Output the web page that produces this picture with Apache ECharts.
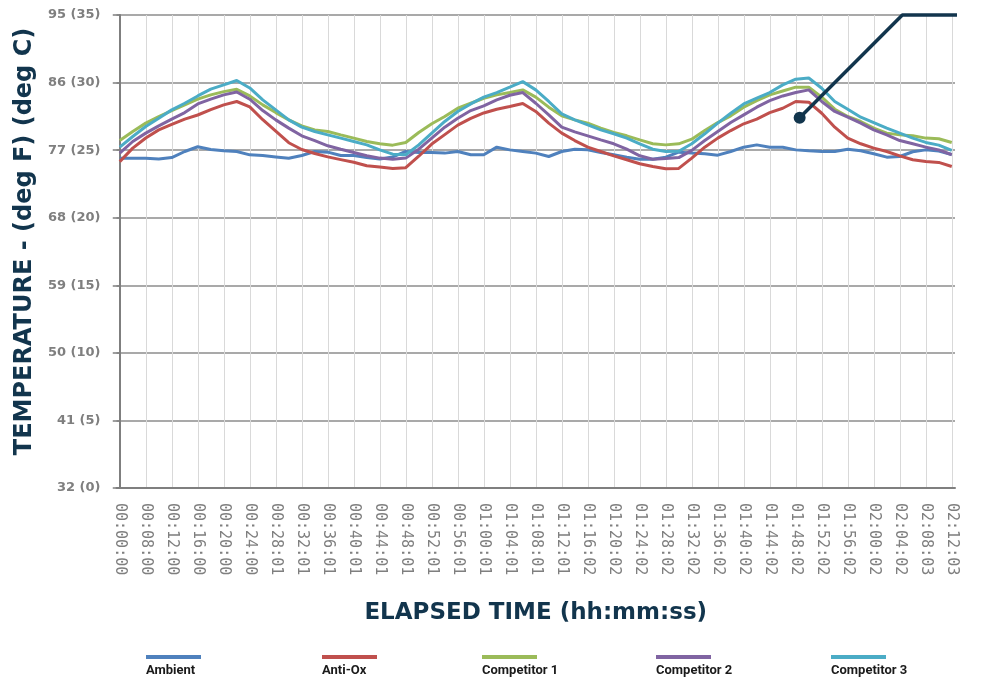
<!DOCTYPE html>
<html>
<head>
<meta charset="utf-8">
<script src="https://cdn.jsdelivr.net/npm/echarts@6/dist/echarts.min.js"></script>
<style>
  html, body { margin: 0; padding: 0; background: #fff; }
  #chart { width: 985px; height: 678px; }
</style>
</head>
<body>
<div id="chart"></div>
<script>
// x labels every 4 minutes (one category per minute)
const tickLabels = ['00:00:00', '00:08:00', '00:12:00', '00:16:00', '00:20:00', '00:24:00', '00:28:01', '00:32:01',
  '00:36:01', '00:40:01', '00:44:01', '00:48:01', '00:52:01', '00:56:01', '01:00:01', '01:04:01', '01:08:01',
  '01:12:01', '01:16:02', '01:20:02', '01:24:02', '01:28:02', '01:32:02', '01:36:02', '01:40:02', '01:44:02',
  '01:48:02', '01:52:02', '01:56:02', '02:00:02', '02:04:02', '02:08:03', '02:12:03'];
const yTickLabels = ['32 (0)', '41 (5)', '50 (10)', '59 (15)', '68 (20)', '77 (25)', '86 (30)', '95 (35)'];

// readings in deg C, one every 2 minutes
const ambient = [24.4, 24.4, 24.4, 24.35, 24.45, 24.9, 25.25, 25.05, 24.95, 24.9, 24.65, 24.6, 24.5, 24.4, 24.6, 24.9,
  24.85, 24.6, 24.6, 24.45, 24.35, 24.5, 24.9, 24.83, 24.83, 24.78, 24.9, 24.66, 24.66, 25.22, 25.02, 24.9, 24.78,
  24.53, 24.9, 25.07, 25.02, 24.83, 24.66, 24.48, 24.33, 24.33, 24.48, 24.85, 24.78, 24.73, 24.63, 24.9, 25.22,
  25.39, 25.22, 25.22, 25.02, 24.95, 24.9, 24.9, 25.07, 24.95, 24.73, 24.48, 24.53, 24.88, 25.02, 24.93, 24.68];
const antiOx = [24.15, 25.15, 25.9, 26.5, 26.9, 27.3, 27.6, 28.0, 28.35, 28.6, 28.2, 27.25, 26.4, 25.55, 25.05, 24.75,
  24.5, 24.3, 24.1, 23.85, 23.75, 23.65, 23.7, 24.55, 25.45, 26.15, 26.85, 27.35, 27.75, 28.03, 28.23, 28.45, 27.86,
  27.0, 26.26, 25.71, 25.22, 24.9, 24.58, 24.29, 23.99, 23.79, 23.62, 23.65, 24.41, 25.22, 25.89, 26.45, 26.95,
  27.29, 27.78, 28.1, 28.6, 28.55, 27.73, 26.7, 25.89, 25.47, 25.15, 24.9, 24.58, 24.29, 24.16, 24.09, 23.79];
const competitor1 = [25.71, 26.38, 27.0, 27.49, 27.93, 28.35, 28.77, 29.09, 29.33, 29.5, 29.01, 28.35, 27.78, 27.24,
  26.8, 26.5, 26.38, 26.13, 25.89, 25.64, 25.47, 25.37, 25.57, 26.31, 26.95, 27.49, 28.1, 28.47, 28.84, 29.09, 29.26,
  29.46, 28.92, 28.18, 27.54, 27.24, 27.0, 26.63, 26.31, 26.06, 25.76, 25.47, 25.39, 25.47, 25.81, 26.45, 27.04,
  27.54, 28.18, 28.67, 29.09, 29.38, 29.66, 29.66, 28.92, 28.03, 27.49, 27.12, 26.63, 26.26, 26.13, 26.06, 25.89,
  25.84, 25.57];
const competitor2 = [24.78, 25.64, 26.26, 26.8, 27.29, 27.78, 28.42, 28.77, 29.09, 29.3, 28.77, 27.93, 27.24, 26.63,
  26.06, 25.71, 25.32, 25.07, 24.83, 24.58, 24.41, 24.33, 24.41, 25.07, 25.89, 26.7, 27.36, 27.93, 28.28, 28.72, 29.06,
  29.26, 28.47, 27.61, 26.7, 26.35, 26.06, 25.76, 25.47, 25.07, 24.58, 24.33, 24.38, 24.45, 24.98, 25.71, 26.38,
  27.04, 27.61, 28.18, 28.67, 29.01, 29.26, 29.46, 28.6, 27.86, 27.44, 27.0, 26.5, 26.13, 25.71, 25.47, 25.22,
  25.02, 24.66];
const competitor3 = [25.22, 26.01, 26.75, 27.36, 27.98, 28.47, 29.01, 29.51, 29.83, 30.15, 29.6, 28.72, 27.98, 27.24,
  26.7, 26.38, 26.13, 25.89, 25.64, 25.39, 25.02, 24.7, 24.66, 25.39, 26.26, 27.12, 27.86, 28.42, 28.92, 29.26, 29.66,
  30.07, 29.46, 28.6, 27.68, 27.24, 26.87, 26.5, 26.21, 25.89, 25.47, 25.07, 24.9, 24.92, 25.47, 26.21, 27.0, 27.73,
  28.42, 28.84, 29.26, 29.83, 30.25, 30.34, 29.58, 28.6, 28.03, 27.44, 27.04, 26.63, 26.26, 25.89, 25.57, 25.37,
  24.98];

const seriesNames = ['Ambient', 'Anti-Ox', 'Competitor 1', 'Competitor 2', 'Competitor 3'];
const seriesValues = [ambient, antiOx, competitor1, competitor2, competitor3];
const colors = ['#4f81bd', '#c0504d', '#9bbb59', '#8064a2', '#4bacc6'];
const legendLeft = [146, 322, 482, 656, 831];

// callout pointer: [minute, deg C]
const calloutPath = [[104.6, 27.4], [120.4, 35], [133.3, 35]];

const categories = [];
for (let m = 0; m <= 128; m++) {
  categories.push(m % 4 === 0 ? tickLabels[m / 4] : '');
}

const navy = '#12354d';
const gray = '#7f7f7f';
const titleFont = { color: navy, fontSize: 23, fontWeight: 'bold', fontFamily: 'DejaVu Sans' };

const series = seriesValues.map((vals, i) => ({
  name: seriesNames[i],
  type: 'line',
  data: vals.map((v, j) => [j * 2, v]),
  showSymbol: false,
  symbol: 'none',
  color: colors[i],
  lineStyle: { width: 3, color: colors[i] },
  z: 3
}));

series.push({
  name: 'callout',
  type: 'line',
  xAxisIndex: 1,
  data: calloutPath,
  clip: false,
  silent: true,
  showSymbol: true,
  symbol: (val, params) => params.dataIndex === 0 ? 'circle' : 'none',
  symbolSize: 12,
  itemStyle: { color: navy },
  lineStyle: { width: 3.5, color: navy },
  z: 5
});

// legend text sits under its swatch
const legends = seriesNames.map((name, i) => ({
  data: [name],
  left: legendLeft[i],
  top: 629,
  padding: 0,
  icon: 'rect',
  itemWidth: 55,
  itemHeight: 4,
  selectedMode: false,
  formatter: n => '\n' + n,
  textStyle: {
    color: '#1a1a1a',
    fontFamily: 'Roboto',
    fontWeight: 'bold',
    fontSize: 13,
    lineHeight: 28,
    padding: [0, 0, 0, -60]
  }
}));

const chart = echarts.init(document.getElementById('chart'));
chart.setOption({
  animation: false,
  backgroundColor: '#fff',
  legend: legends,
  grid: { left: 116.5, right: 30, top: 15, bottom: 190 },
  xAxis: [
    {
      type: 'category',
      data: categories,
      boundaryGap: true,
      name: 'ELAPSED TIME (hh:mm:ss)',
      nameLocation: 'middle',
      nameGap: 114,
      nameTextStyle: titleFont,
      axisLine: { lineStyle: { color: gray, width: 2 } },
      axisTick: { show: false },
      axisLabel: {
        interval: 3,
        rotate: -90,
        margin: 15,
        color: gray,
        fontFamily: 'DejaVu Sans Mono',
        fontSize: 15
      },
      splitLine: { show: true, interval: 3, alignWithLabel: true, lineStyle: { color: '#d9d9d9', width: 1 } }
    },
    {
      type: 'value',
      min: -0.5,
      max: 128.5,
      show: false
    }
  ],
  yAxis: {
    type: 'value',
    min: 0,
    max: 35,
    interval: 5,
    name: 'TEMPERATURE - (deg F) (deg C)',
    nameLocation: 'middle',
    nameGap: 80,
    nameTextStyle: Object.assign({}, titleFont, { fontSize: 24, padding: [0, 0, 0, 20] }),
    axisLine: { show: true, lineStyle: { color: gray, width: 2 } },
    axisTick: { show: true, length: 7, lineStyle: { color: gray, width: 1.5 } },
    axisLabel: {
      formatter: v => yTickLabels[Math.round(v / 5)],
      color: gray,
      fontWeight: 'bold',
      fontFamily: 'DejaVu Sans',
      fontSize: 13,
      margin: 16
    },
    splitLine: { lineStyle: { color: '#8c8c8c', width: 1.5 } }
  },
  series: series
});
</script>
</body>
</html>
